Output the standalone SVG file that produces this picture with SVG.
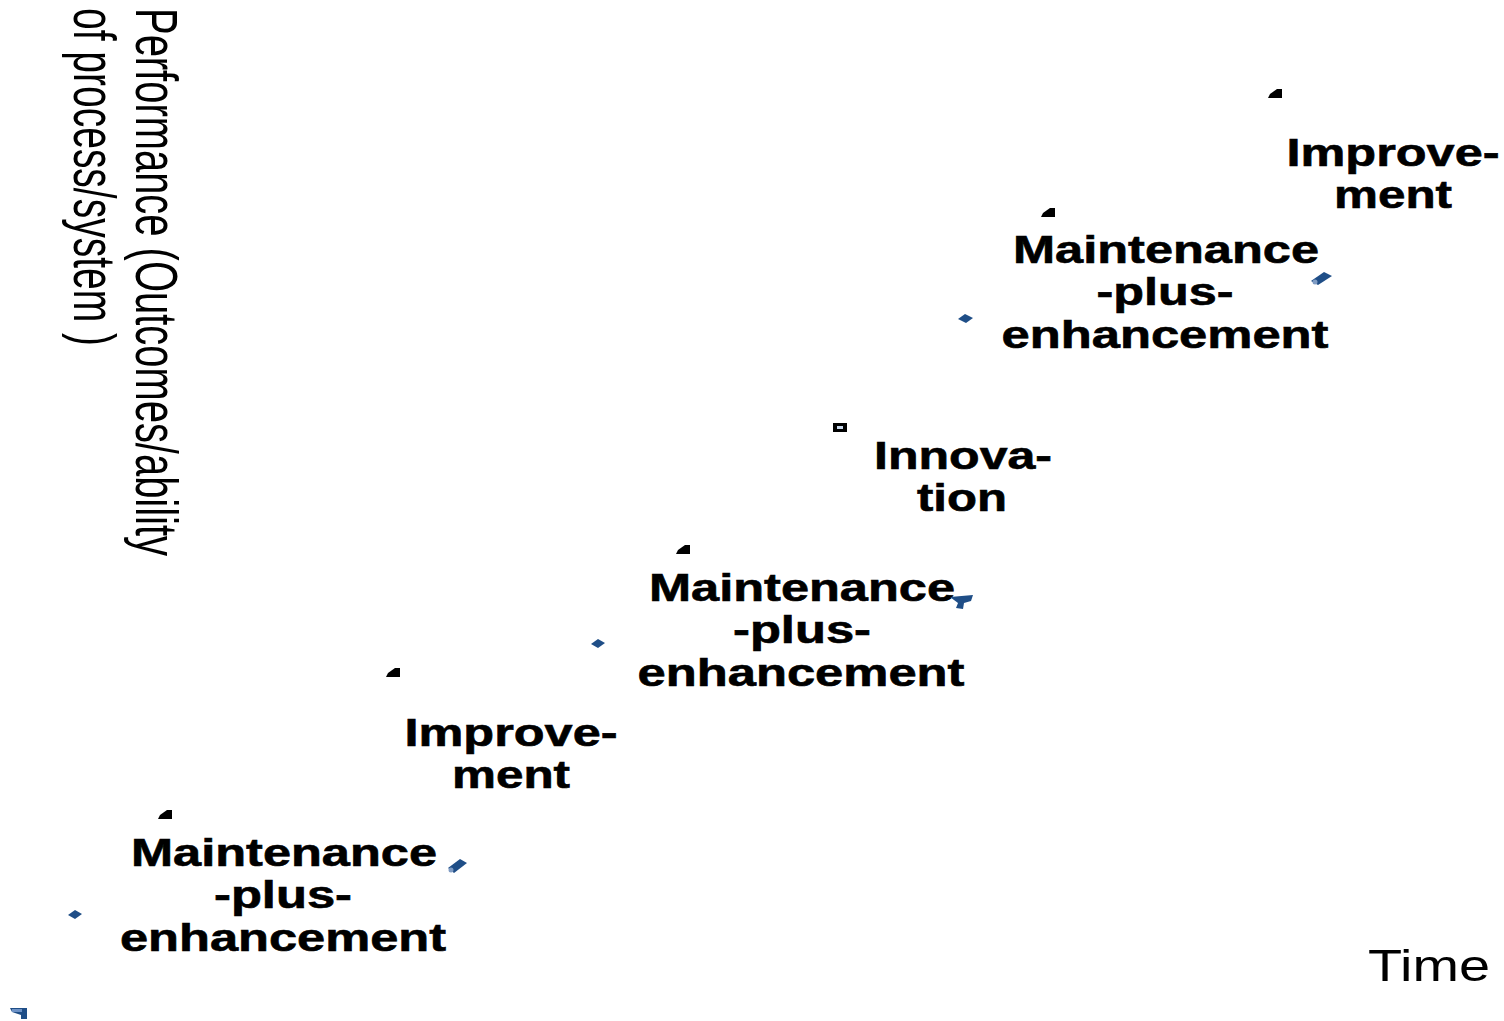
<svg xmlns="http://www.w3.org/2000/svg" width="1504" height="1021" viewBox="0 0 1504 1021">
<style>
.lbl{font-family:"Liberation Sans",Arial,sans-serif;font-weight:bold;font-size:38px;fill:#000;text-anchor:middle;stroke:#000;stroke-width:0.6px}
.ax{font-family:"Liberation Sans Narrow","Liberation Sans",Arial,sans-serif;font-size:60px;fill:#000}
.bk{fill:#000}
.bl{fill:#1f4e87}
</style>
<rect width="1504" height="1021" fill="#fff"/>
<g id="axis-y">
<text class="ax" transform="translate(136,8) rotate(90)" textLength="548" lengthAdjust="spacingAndGlyphs">Performance (Outcomes/ability</text>
<text class="ax" transform="translate(74,8) rotate(90)" textLength="338" lengthAdjust="spacingAndGlyphs">of process/system )</text>
</g>
<g id="axis-x">
<text x="1368" y="981" font-family="Liberation Sans, Arial, sans-serif" font-size="44" textLength="122" lengthAdjust="spacingAndGlyphs">Time</text>
</g>
<g id="node-mpe1">
<text class="lbl" x="284" y="866" textLength="306" lengthAdjust="spacingAndGlyphs">Maintenance</text>
<text class="lbl" x="283" y="908" textLength="138" lengthAdjust="spacingAndGlyphs">-plus-</text>
<text class="lbl" x="283" y="951" textLength="326" lengthAdjust="spacingAndGlyphs">enhancement</text>
</g>
<g id="node-imp1">
<text class="lbl" x="511" y="746" textLength="213" lengthAdjust="spacingAndGlyphs">Improve-</text>
<text class="lbl" x="511" y="788" textLength="118" lengthAdjust="spacingAndGlyphs">ment</text>
</g>
<g id="node-mpe2">
<text class="lbl" x="802" y="601" textLength="306" lengthAdjust="spacingAndGlyphs">Maintenance</text>
<text class="lbl" x="802" y="643" textLength="138" lengthAdjust="spacingAndGlyphs">-plus-</text>
<text class="lbl" x="801" y="686" textLength="327" lengthAdjust="spacingAndGlyphs">enhancement</text>
</g>
<g id="node-innov">
<text class="lbl" x="963" y="469" textLength="178" lengthAdjust="spacingAndGlyphs">Innova-</text>
<text class="lbl" x="962" y="511" textLength="90" lengthAdjust="spacingAndGlyphs">tion</text>
</g>
<g id="node-mpe3">
<text class="lbl" x="1166" y="263" textLength="306" lengthAdjust="spacingAndGlyphs">Maintenance</text>
<text class="lbl" x="1165" y="305" textLength="137" lengthAdjust="spacingAndGlyphs">-plus-</text>
<text class="lbl" x="1165" y="348" textLength="327" lengthAdjust="spacingAndGlyphs">enhancement</text>
</g>
<g id="node-imp2">
<text class="lbl" x="1393" y="166" textLength="213" lengthAdjust="spacingAndGlyphs">Improve-</text>
<text class="lbl" x="1393" y="208" textLength="118" lengthAdjust="spacingAndGlyphs">ment</text>
</g>
<g id="marks">
<polygon class="bk" points="1268,98 1282,98 1282,89 1277,89 1270,94"/>
<polygon class="bk" points="1041,217 1055,217 1055,208 1050,208 1043,213"/>
<polygon class="bk" points="676,554 690,554 690,545 685,545 678,550"/>
<polygon class="bk" points="386,677 400,677 400,668 395,668 388,673"/>
<polygon class="bk" points="158,819 172,819 172,810 167,810 160,815"/>
<rect x="833" y="423" width="14" height="9" class="bk"/>
<rect x="837" y="426" width="6" height="3" fill="#c8d8ec"/>
<polygon class="bl" points="958,319 965,314 973,318 966,323"/>
<polygon class="bl" points="591,644 598,639 605,643 598,648"/>
<polygon class="bl" points="68,915 75,910 82,914 75,919"/>
<polygon class="bl" points="1311,281 1324,272 1332,276 1318,285"/>
<circle cx="1315" cy="282" r="2.5" fill="#7f9cc4"/>
<polygon class="bl" points="950,597 973,595 971,601 964,603 963,609 956,608 958,603"/>
<polygon class="bl" points="448,868 460,859 467,863 454,873"/>
<circle cx="451" cy="870" r="2.5" fill="#7f9cc4"/>
<polygon class="bl" points="10,1008 27,1008 27,1019 21,1019 21,1015 12,1012"/>
<rect x="12" y="1009" width="10" height="3" fill="#6d92c6"/>
</g>
</svg>
